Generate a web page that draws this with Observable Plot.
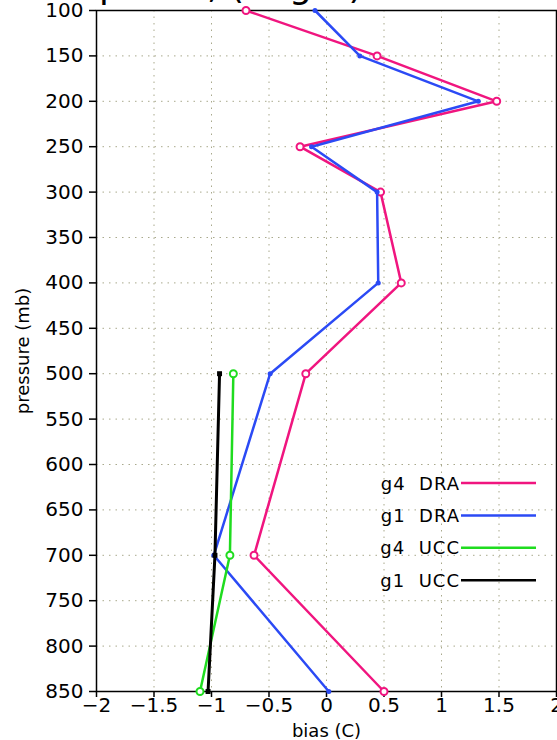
<!DOCTYPE html>
<html>
<head>
<meta charset="utf-8">
<script src="https://cdn.jsdelivr.net/npm/d3@7"></script>
<script src="https://cdn.jsdelivr.net/npm/@observablehq/plot@0.6"></script>
<style>
  html, body { margin: 0; padding: 0; background: white; overflow: hidden; }
  #chart { position: relative; width: 557px; height: 740px; }
  #chart svg { display: block; }
  #title {
    position: absolute; left: 26px; top: -32px; z-index: 2;
    font-family: "DejaVu Sans"; font-size: 36px; line-height: 36px;
    white-space: pre; color: black; pointer-events: none;
  }
</style>
</head>
<body>
<div id="chart"><div id="title"></div></div>
<script>
// Pressure levels (mb) and temperature bias (C) per run
const pressure = [100, 150, 200, 250, 300, 400, 500, 700, 850];
const g4DRA = [-0.70, 0.44, 1.48, -0.23, 0.47, 0.65, -0.18, -0.63, 0.50];
const g1DRA = [-0.10, 0.29, 1.32, -0.13, 0.44, 0.45, -0.49, -0.98, 0.02];

const uccPressure = [500, 700, 850];
const g4UCC = [-0.81, -0.84, -1.10];
const g1UCC = [-0.93, -0.97, -1.03];

const xTicks = [-2, -1.5, -1, -0.5, 0, 0.5, 1, 1.5, 2];
const yTicks = [100, 150, 200, 250, 300, 350, 400, 450, 500, 550, 600, 650, 700, 750, 800, 850];

const seriesNames = ["g4  DRA", "g1  DRA", "g4  UCC", "g1  UCC"];
const seriesColors = ["#f0157f", "#2b4af5", "#1fdc1f", "#000000"];

const titleText = "Temp bias, (deg C)";

const rows = (levels, values) => levels.map((p, i) => ({p, v: values[i]}));
const dataG4DRA = rows(pressure, g4DRA);
const dataG1DRA = rows(pressure, g1DRA);
const dataG4UCC = rows(uccPressure, g4UCC);
const dataG1UCC = rows(uccPressure, g1UCC);

const fmt = d => d < 0 ? "\u2212" + Math.abs(d) : String(d);
const grid = {stroke: "#a9a98c", strokeOpacity: 1, strokeDasharray: "1.5,5", strokeWidth: 1};

const chart = Plot.plot({
  width: 557,
  height: 740,
  marginTop: 10,
  marginBottom: 49,
  marginLeft: 96,
  marginRight: 1,
  style: {fontFamily: "DejaVu Sans", fontSize: "20px", color: "black", background: "white"},
  x: {domain: [-2, 2], label: null},
  y: {domain: [100, 850], reverse: true, label: null},
  marks: [
    Plot.gridX(xTicks, grid),
    Plot.gridY(yTicks, grid),
    Plot.axisX({ticks: xTicks, tickFormat: fmt, tickSize: 6, tickPadding: 0, fontSize: 20, label: null, strokeWidth: 1.5}),
    Plot.axisY({ticks: yTicks, tickSize: 7, tickPadding: 6, fontSize: 20, label: null, strokeWidth: 1.5}),
    Plot.frame({stroke: "black", strokeWidth: 1.5}),

    Plot.line(dataG4DRA, {x: "v", y: "p", stroke: seriesColors[0], strokeWidth: 2.5}),
    Plot.dot(dataG4DRA, {x: "v", y: "p", r: 3.5, stroke: seriesColors[0], fill: "white", strokeWidth: 2}),

    Plot.line(dataG1DRA, {x: "v", y: "p", stroke: seriesColors[1], strokeWidth: 2.5}),
    Plot.dot(dataG1DRA, {x: "v", y: "p", r: 2.5, fill: seriesColors[1], stroke: "none"}),

    Plot.line(dataG4UCC, {x: "v", y: "p", stroke: seriesColors[2], strokeWidth: 2.5}),
    Plot.dot(dataG4UCC, {x: "v", y: "p", r: 3.5, stroke: seriesColors[2], fill: "white", strokeWidth: 2}),

    Plot.line(dataG1UCC, {x: "v", y: "p", stroke: seriesColors[3], strokeWidth: 3}),
    Plot.dot(dataG1UCC, {x: "v", y: "p", symbol: "square", r: 2.8, fill: seriesColors[3], stroke: "none"}),

    Plot.text(["pressure (mb)"], {text: d => d, frameAnchor: "left", textAnchor: "middle", dx: -73, rotate: -90, fontSize: 18}),
    Plot.text(["bias (C)"], {text: d => d, frameAnchor: "bottom", textAnchor: "middle", dy: 45, fontSize: 18})
  ]
});

document.getElementById("chart").appendChild(chart);

// Title sits above the frame; only its descenders reach into view
document.getElementById("title").textContent = titleText;

const svg = d3.select(chart);

// Legend in the lower right of the frame
const legend = svg.append("g").attr("text-anchor", "end");
seriesNames.forEach((name, i) => {
  const y = 483 + i * 32.4;
  legend.append("text")
    .attr("x", 460)
    .attr("y", y + 6.5)
    .attr("fill", "black")
    .style("font-family", "DejaVu Sans")
    .style("font-size", "18px")
    .style("letter-spacing", "1px")
    .style("white-space", "pre")
    .text(name);
  legend.append("line")
    .attr("x1", 461).attr("x2", 536)
    .attr("y1", y).attr("y2", y)
    .attr("stroke", seriesColors[i])
    .attr("stroke-width", 2.5);
});
</script>
</body>
</html>
